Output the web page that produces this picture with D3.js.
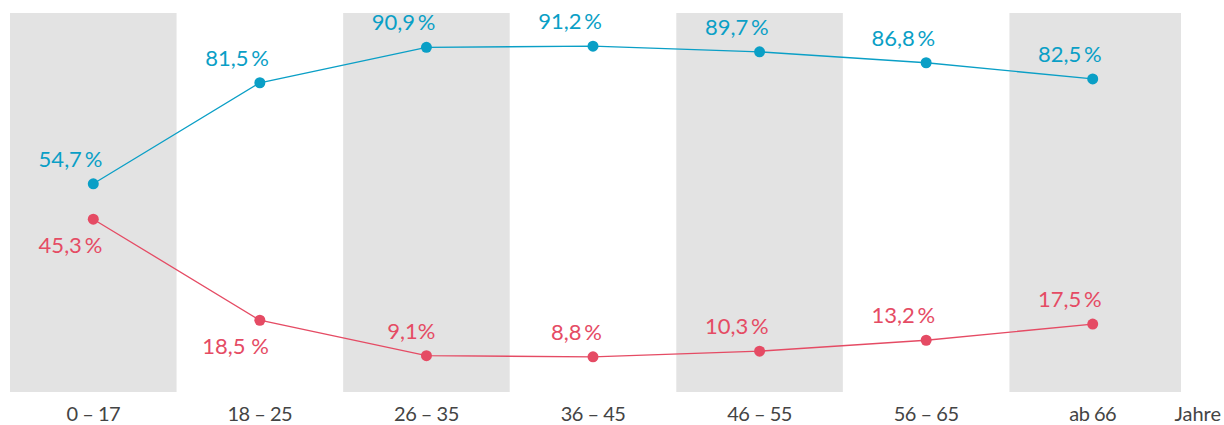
<!DOCTYPE html>
<html><head><meta charset="utf-8">
<script src="https://cdn.jsdelivr.net/npm/d3@7"></script>
<style>body{margin:0;background:#fff}svg{display:block}text{font-family:Lato,"Open Sans",sans-serif}</style>
</head><body>
<svg id="c" width="1224" height="425"></svg>
<script>
const categories = ["0 – 17","18 – 25","26 – 35","36 – 45","46 – 55","56 – 65","ab 66"];
const blueValues = [54.7,81.5,90.9,91.2,89.7,86.8,82.5];
const redValues = [45.3,18.5,9.1,8.8,10.3,13.2,17.5];
const blueLabels = ["54,7\u2009%","81,5\u2009%","90,9\u2009%","91,2\u2009%","89,7\u2009%","86,8\u2009%","82,5\u2009%"];
const redLabels = ["45,3\u2009%","18,5 %","9,1%","8,8\u2009%","10,3\u2009%","13,2\u2009%","17,5\u2009%"];
const redPlacement = ["below","below","above","above","above","above","above"];
const unitLabel = "Jahre";

const svg = d3.select("#c");
const blue = "#0a9fc6", red = "#e54b64";
const x = d3.scaleBand().domain(categories).range([10, 1176]).padding(0);
const y = d3.scaleLinear().domain([0, 100]).range([390, 13]);
const cx = c => x(c) + x.bandwidth()/2;

// alternating bands
svg.append("g").selectAll("rect").data(categories.filter((d,i)=>i%2===0)).join("rect")
  .attr("x", d => x(d)).attr("y", y(100))
  .attr("width", (d) => d === categories[categories.length-1] ? x.bandwidth()+5 : x.bandwidth())
  .attr("height", 392 - y(100)).attr("fill", "#e3e3e3");

function series(vals, color, labels, placement){
  const pts = vals.map((v,i)=>[cx(categories[i]), y(v)]);
  svg.append("path").attr("d", d3.line()(pts)).attr("fill","none").attr("stroke",color).attr("stroke-width",1.3);
  svg.append("g").selectAll("circle").data(pts).join("circle")
    .attr("cx",d=>d[0]).attr("cy",d=>d[1]).attr("r",5.5).attr("fill",color);
  svg.append("g").selectAll("text").data(vals).join("text")
    .attr("x",(d,i)=>cx(categories[i])+9)
    .attr("y",(d,i)=> placement[i]==="below" ? y(d)+34 : y(d)-17)
    .attr("text-anchor","end").attr("font-size",22).attr("fill",color)
    .text((d,i)=>labels[i]);
}
series(blueValues, blue, blueLabels, blueValues.map(()=> "above"));
series(redValues, red, redLabels, redPlacement);

const xAxis = d3.axisBottom(x).tickSize(0).tickPadding(0);
const ax = svg.append("g").attr("transform","translate(0,407)").call(xAxis);
ax.select(".domain").remove();
ax.selectAll("text").attr("font-size",20).attr("fill","#444").attr("font-family","Lato,'Open Sans',sans-serif")
  .attr("letter-spacing","-0.5");
svg.append("text").attr("x",1221).attr("y",421).attr("text-anchor","end")
  .attr("font-size",20).attr("fill","#444").text(unitLabel);
</script>
</body></html>
